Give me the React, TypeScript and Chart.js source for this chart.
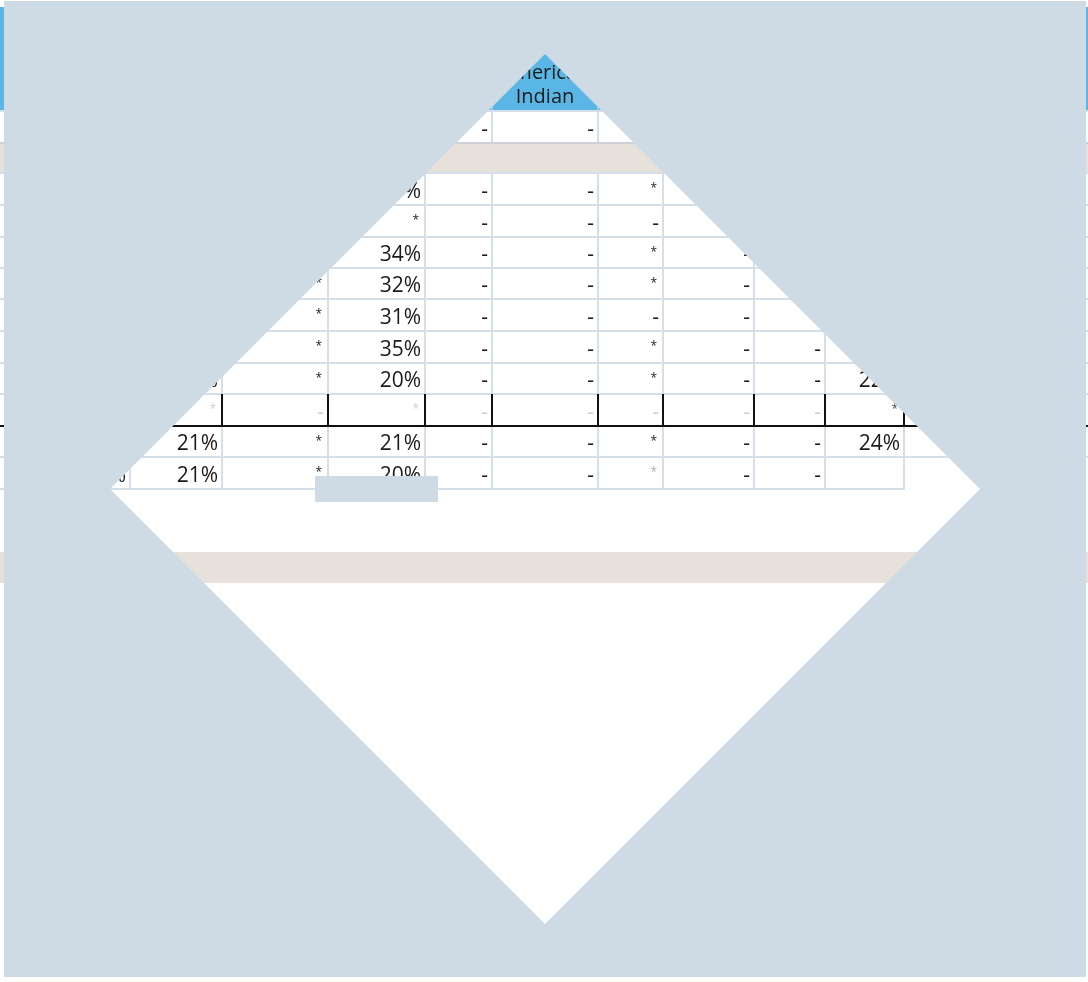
import React, { useEffect, useRef } from "react";
import { Chart, registerables } from "chart.js";

Chart.register(...registerables);

// ---------------- DATA ----------------
const headerLines = ["American", "Indian"];
const headerColumn = 5;

// Table rows (one small array per row, one entry per column)
const rowTotal = ["", "", "", "", "-", "-", "", "", "", "", ""];
const row1 = ["", "", "", "33%", "-", "-", "*", "", "", "", ""];
const row2 = ["", "", "", "*", "-", "-", "-", "", "", "", ""];
const row3 = ["", "", "", "34%", "-", "-", "*", "-", "", "", ""];
const row4 = ["", "", "*", "32%", "-", "-", "*", "-", "", "", ""];
const row5 = ["", "", "*", "31%", "-", "-", "-", "-", "", "", ""];
const row6 = ["", "", "*", "35%", "-", "-", "*", "-", "-", "", ""];
const row7 = ["", "22%", "*", "20%", "-", "-", "*", "-", "-", "22%", ""];
const row8 = ["", "*", "-", "*", "-", "-", "-", "-", "-", "*", ""];
const row9 = ["", "21%", "*", "21%", "-", "-", "*", "-", "-", "24%", ""];
const row10 = ["21%", "21%", "*", "20%", "-", "-", "*", "-", "-", ""];
const bodyRows = [row1, row2, row3, row4, row5, row6, row7, row8, row9, row10];

// ---------------- LAYOUT / STYLE ----------------
const W = 1088;
const H = 982;
const colEdges = [30, 130, 222, 328, 425, 492, 598, 663, 754, 825, 904, 1000];
const headerBand = [7, 110];
const totalRowBand = [111, 143];
const sectionBand = [143, 173];
const rowEdges = [173, 205, 237, 268, 299, 331, 363, 394, 426, 457, 489];
const lowerBand = [552, 583];
const separatorRow = 7; // index into bodyRows (black-bordered, light text)
const lastRowRight = 904;

const BLUE = "#5AB7E5";
const BLUE_SEP = "#8CCBEC";
const BEIGE = "#E6E2DB";
const GRID = "#D5DFE9";
const GRID_GREY = "#CDD1D7";
const OVERLAY = "#CEDAE4";
const TEXT = "#1b1b1b";
const LIGHT_TEXT = "#C6D3DF";
const FONT = '"Open Sans", "Noto Sans", sans-serif';

// Overlay with diamond window (outer rectangle, then slit into the diamond)
const maskOuter = [
  { x: 4, y: 1 },
  { x: 1086, y: 1 },
  { x: 1086, y: 977 },
  { x: 4, y: 977 },
  { x: 4, y: 489 },
];
const maskDiamond = [
  { x: 110, y: 489 },
  { x: 545, y: 924 },
  { x: 980, y: 489 },
  { x: 545, y: 54 },
  { x: 110, y: 489 },
];
const maskPath = [...maskOuter, ...maskDiamond, { x: 4, y: 489 }, { x: 4, y: 1 }];
const patchPath = [
  { x: 315, y: 476 },
  { x: 438, y: 476 },
  { x: 438, y: 502 },
  { x: 315, y: 502 },
  { x: 315, y: 476 },
];

function cellColor(r: number, c: number): string {
  if (r === separatorRow) return c === 9 ? "#4a4a4a" : LIGHT_TEXT;
  if (r === 9 && c === 6) return "#A7B1BB";
  return TEXT;
}

const tablePlugin = {
  id: "tableDraw",
  beforeDatasetsDraw(chart: any) {
    const ctx: CanvasRenderingContext2D = chart.ctx;
    const xs = chart.scales.x;
    const ys = chart.scales.y;
    const X = (v: number) => xs.getPixelForValue(v);
    const Y = (v: number) => ys.getPixelForValue(v);
    const rect = (x0: number, y0: number, x1: number, y1: number, color: string) => {
      ctx.fillStyle = color;
      ctx.fillRect(X(x0), Y(y0), X(x1) - X(x0), Y(y1) - Y(y0));
    };
    const hLine = (y: number, x0: number, x1: number, color: string) =>
      rect(x0, y - 1, x1, y + 1, color);
    const vLine = (x: number, y0: number, y1: number, color: string) =>
      rect(x - 1, y0, x + 1, y1, color);

    ctx.save();
    rect(0, 0, W, H, "#ffffff");

    // header band
    rect(0, headerBand[0], W, headerBand[1], BLUE);
    colEdges.forEach((e) => vLine(e, headerBand[0], headerBand[1], BLUE_SEP));
    ctx.fillStyle = TEXT;
    ctx.font = `20px ${FONT}`;
    ctx.textAlign = "center";
    ctx.textBaseline = "alphabetic";
    const hc = (colEdges[headerColumn] + colEdges[headerColumn + 1]) / 2;
    ctx.fillText(headerLines[0], X(hc), Y(79));
    ctx.fillText(headerLines[1], X(hc), Y(103));

    // section bands
    rect(0, sectionBand[0], W, sectionBand[1], BEIGE);
    rect(0, lowerBand[0], W, lowerBand[1], BEIGE);

    const drawCell = (v: string, c: number, top: number, bottom: number, color: string) => {
      if (!v) return;
      const right = colEdges[c + 1];
      const mid = (top + bottom) / 2;
      ctx.fillStyle = color;
      ctx.textAlign = "right";
      if (v === "*") {
        ctx.font = `12px ${FONT}`;
        ctx.fillText(v, X(right - 6), Y(mid + 3));
      } else {
        ctx.font = `21px ${FONT}`;
        ctx.fillText(v, X(right - 4), Y(mid + 8.5));
      }
    };

    // total row
    rowTotal.forEach((v, c) => drawCell(v, c, totalRowBand[0], totalRowBand[1], TEXT));
    // body rows
    bodyRows.forEach((row, r) => {
      row.forEach((v, c) => drawCell(v, c, rowEdges[r], rowEdges[r + 1], cellColor(r, c)));
    });

    // grid: total row
    colEdges.forEach((e) => vLine(e, totalRowBand[0], totalRowBand[1], GRID));
    hLine(headerBand[1] + 1, 0, W, GRID);
    hLine(totalRowBand[1], 0, W, GRID_GREY);

    // grid: body
    const last = rowEdges.length - 1;
    colEdges.forEach((e) => {
      vLine(e, rowEdges[0], rowEdges[last - 1], GRID);
      if (e <= lastRowRight) vLine(e, rowEdges[last - 1], rowEdges[last], GRID);
    });
    rowEdges.forEach((y, i) => {
      if (i === last) hLine(y, 0, lastRowRight + 1, GRID);
      else hLine(y, 0, W, GRID);
    });

    // separator row: black borders
    colEdges.forEach((e) => {
      if (e > colEdges[1]) vLine(e, rowEdges[separatorRow], rowEdges[separatorRow + 1], "#111111");
    });
    hLine(rowEdges[separatorRow + 1], 0, W, "#111111");

    ctx.restore();
  },
};

export default function App() {
  const ref = useRef<HTMLCanvasElement | null>(null);

  useEffect(() => {
    if (!ref.current) return;
    const chart = new Chart(ref.current, {
      type: "scatter",
      data: {
        datasets: [
          {
            data: maskPath,
            showLine: true,
            fill: "shape",
            backgroundColor: OVERLAY,
            borderColor: "rgba(0,0,0,0)",
            borderWidth: 0,
            pointRadius: 0,
            pointHoverRadius: 0,
            tension: 0,
          } as any,
          {
            data: patchPath,
            showLine: true,
            fill: "shape",
            backgroundColor: OVERLAY,
            borderColor: "rgba(0,0,0,0)",
            borderWidth: 0,
            pointRadius: 0,
            pointHoverRadius: 0,
            tension: 0,
          } as any,
        ],
      },
      options: {
        animation: false,
        responsive: false,
        maintainAspectRatio: false,
        events: [],
        layout: { padding: 0 },
        plugins: {
          legend: { display: false },
          tooltip: { enabled: false },
          title: { display: false },
        },
        scales: {
          x: { type: "linear", min: 0, max: W, display: false },
          y: { type: "linear", min: 0, max: H, reverse: true, display: false },
        },
      },
      plugins: [tablePlugin],
    });
    return () => chart.destroy();
  }, []);

  return (
    <div style={{ position: "fixed", left: 0, top: 0, width: W, height: H, background: "#fff" }}>
      <canvas ref={ref} width={W} height={H} style={{ display: "block", width: W, height: H }} />
    </div>
  );
}
